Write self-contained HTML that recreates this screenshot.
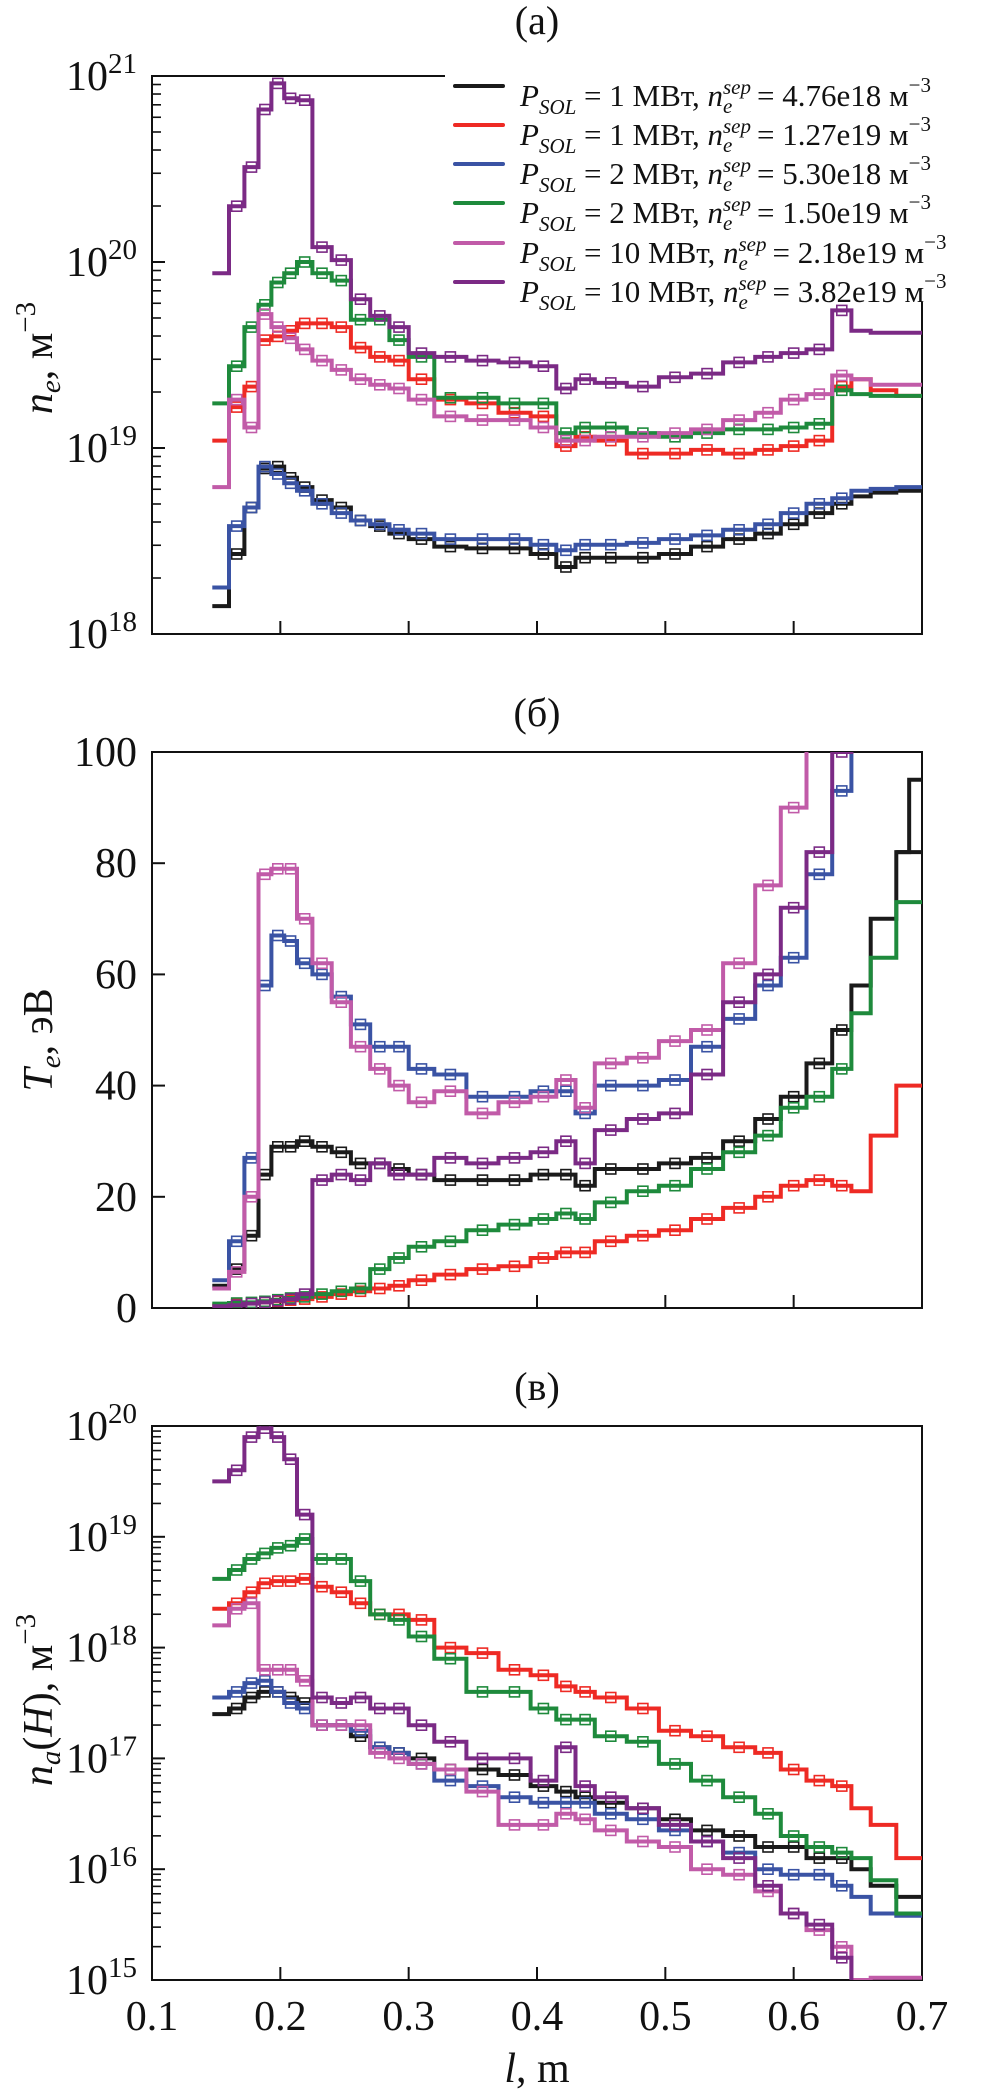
<!DOCTYPE html>
<html><head><meta charset="utf-8">
<style>
html,body{margin:0;padding:0;background:#fff;}
body{width:1002px;height:2094px;position:relative;overflow:hidden;font-family:"Liberation Serif",serif;}
#chart{position:absolute;left:0;top:0;}
#legend{position:absolute;left:445px;top:62px;width:557px;height:240px;background:#fff;}
.lrow{position:absolute;left:0;height:40px;white-space:nowrap;font-size:31px;color:#111;}
.lline{position:absolute;left:8px;top:19px;width:52px;height:4px;border-radius:2px;}
.ltext{position:absolute;left:75px;top:0;line-height:40px;}
.it{font-style:italic;}
.sub{font-size:21px;font-style:italic;vertical-align:-8px;}
.st{display:inline-flex;flex-direction:column;vertical-align:middle;font-size:21px;font-style:italic;line-height:19px;margin-right:6px;margin-top:-4px;}
.sup{font-size:21px;vertical-align:14px;}
</style></head>
<body>
<svg id="chart" width="1002" height="2094" xmlns="http://www.w3.org/2000/svg"></svg>

<div id="legend">
  <div class="lrow" style="top:3px"><div class="lline" style="background:#1a1a1a"></div><div class="ltext"><span class="it">P</span><span class="sub">SOL</span> = 1 МВт, <span class="it">n</span><span class="st"><span>sep</span><span>e</span></span>= 4.76e18 м<span class="sup">−3</span></div></div>
  <div class="lrow" style="top:42px"><div class="lline" style="background:#ee2a24"></div><div class="ltext"><span class="it">P</span><span class="sub">SOL</span> = 1 МВт, <span class="it">n</span><span class="st"><span>sep</span><span>e</span></span>= 1.27e19 м<span class="sup">−3</span></div></div>
  <div class="lrow" style="top:81px"><div class="lline" style="background:#3a53a4"></div><div class="ltext"><span class="it">P</span><span class="sub">SOL</span> = 2 МВт, <span class="it">n</span><span class="st"><span>sep</span><span>e</span></span>= 5.30e18 м<span class="sup">−3</span></div></div>
  <div class="lrow" style="top:120px"><div class="lline" style="background:#1e8a3c"></div><div class="ltext"><span class="it">P</span><span class="sub">SOL</span> = 2 МВт, <span class="it">n</span><span class="st"><span>sep</span><span>e</span></span>= 1.50e19 м<span class="sup">−3</span></div></div>
  <div class="lrow" style="top:160px"><div class="lline" style="background:#c15ba8"></div><div class="ltext"><span class="it">P</span><span class="sub">SOL</span> = 10 МВт, <span class="it">n</span><span class="st"><span>sep</span><span>e</span></span>= 2.18e19 м<span class="sup">−3</span></div></div>
  <div class="lrow" style="top:199px"><div class="lline" style="background:#7b2a85"></div><div class="ltext"><span class="it">P</span><span class="sub">SOL</span> = 10 МВт, <span class="it">n</span><span class="st"><span>sep</span><span>e</span></span>= 3.82e19 м<span class="sup">−3</span></div></div>
</div>

<script>
// ---- data ----
const binEdges = [0.147,0.16,0.172,0.183,0.193,0.203,0.213,0.225,0.24,0.255,0.27,0.285,0.3,0.32,0.345,0.37,0.395,0.415,0.43,0.445,0.47,0.495,0.52,0.545,0.57,0.59,0.61,0.63,0.645,0.66,0.68,0.7];
const seriesNames = ["P1-4.76e18","P1-1.27e19","P2-5.30e18","P2-1.50e19","P10-2.18e19","P10-3.82e19"];
const seriesColors = ["#1a1a1a","#ee2a24","#3a53a4","#1e8a3c","#c15ba8","#7b2a85"];
const xTicks = [0.1,0.2,0.3,0.4,0.5,0.6,0.7];
const xTickLabels = ["0.1","0.2","0.3","0.4","0.5","0.6","0.7"];
const teTicks = [0,20,40,60,80,100];

// panel (a): log10 n_e
const neBlack  = [18.15,18.43,18.68,18.89,18.90,18.84,18.79,18.72,18.68,18.61,18.58,18.54,18.51,18.47,18.46,18.46,18.43,18.36,18.41,18.41,18.41,18.43,18.47,18.51,18.54,18.59,18.65,18.70,18.74,18.76,18.77];
const neRed    = [19.04,19.22,19.33,19.58,19.60,19.63,19.67,19.67,19.65,19.54,19.49,19.47,19.37,19.26,19.24,19.19,19.17,19.01,19.06,19.04,18.97,18.97,18.99,18.97,18.99,19.01,19.04,19.33,19.37,19.31,19.28];
const neBlue   = [18.25,18.58,18.68,18.90,18.86,18.81,18.77,18.70,18.65,18.61,18.59,18.56,18.54,18.51,18.51,18.51,18.48,18.45,18.48,18.48,18.49,18.51,18.53,18.56,18.59,18.65,18.70,18.73,18.77,18.78,18.79];
const neGreen  = [19.24,19.44,19.65,19.77,19.89,19.94,20.00,19.94,19.90,19.69,19.69,19.58,19.49,19.27,19.27,19.24,19.24,19.08,19.11,19.11,19.08,19.06,19.08,19.10,19.10,19.11,19.13,19.31,19.29,19.28,19.28];
const nePink   = [18.79,19.26,19.11,19.72,19.65,19.59,19.53,19.47,19.42,19.37,19.34,19.32,19.26,19.17,19.15,19.15,19.11,19.04,19.04,19.06,19.06,19.08,19.10,19.15,19.19,19.26,19.29,19.39,19.37,19.34,19.34];
const nePurple = [19.94,20.30,20.51,20.82,20.96,20.88,20.87,20.08,20.01,19.80,19.71,19.65,19.51,19.49,19.47,19.46,19.44,19.32,19.37,19.35,19.33,19.38,19.40,19.46,19.49,19.51,19.53,19.74,19.63,19.62,19.62];

// panel (б): T_e, eV
const teBlack  = [4,7,13,24,29,29,30,29,28,26,26,25,24,23,23,23,24,24,22,25,25,26,27,30,34,38,44,50,58,70,82];
const teRed    = [0.5,0.7,0.9,1,1.2,1.4,1.6,2,2.5,3,3.5,4,5,6,7,7.5,9,10,10,12,13,14,16,18,20,22,23,22,21,31,40];
const teBlue   = [5,12,27,58,67,66,62,60,56,51,47,47,43,42,38,38,39,39,35,40,40,41,47,52,58,63,78,93,110,110,110];
const teGreen  = [0.8,0.9,1,1.2,1.5,1.8,2,2.5,3,3.5,7,9,11,12,14,15,16,17,16,19,21,22,25,28,31,36,38,43,53,63,73];
const tePink   = [3.5,6.5,20,78,79,79,70,62,55,47,43,40,37,39,35,37,38,41,36,44,45,48,50,62,76,90,110,110,110,110,110];
const tePurple = [0.3,0.5,0.8,1,1.3,1.6,2.5,23,24,23,26,24,24,27,26,27,28,30,26,32,34,35,42,55,60,72,82,100,110,110,110];
const teBlackLast = 95;

// panel (в): log10 n_a(H)
const naBlack  = [17.4,17.45,17.55,17.6,17.6,17.55,17.5,17.3,17.3,17.2,17.1,17.05,17.0,16.9,16.9,16.85,16.75,16.7,16.65,16.6,16.55,16.45,16.35,16.3,16.2,16.2,16.1,16.1,16.0,15.85,15.75];
const naRed    = [18.35,18.4,18.5,18.58,18.6,18.6,18.62,18.55,18.5,18.4,18.3,18.3,18.25,18.0,17.95,17.8,17.75,17.65,17.6,17.55,17.45,17.25,17.2,17.1,17.05,16.9,16.8,16.75,16.55,16.4,16.1];
const naBlue   = [17.55,17.6,17.68,17.7,17.6,17.5,17.45,17.3,17.3,17.25,17.1,17.05,16.95,16.8,16.75,16.65,16.6,16.6,16.6,16.5,16.45,16.35,16.25,16.15,16.0,15.95,15.95,15.85,15.75,15.6,15.58];
const naGreen  = [18.62,18.7,18.8,18.85,18.9,18.92,18.98,18.8,18.8,18.6,18.3,18.25,18.1,17.9,17.6,17.6,17.45,17.35,17.35,17.2,17.15,16.95,16.8,16.65,16.5,16.3,16.2,16.15,16.1,15.9,15.6];
const naPink   = [18.2,18.35,18.4,17.8,17.8,17.8,17.7,17.3,17.3,17.3,17.05,17.0,16.95,16.9,16.7,16.4,16.4,16.5,16.45,16.35,16.25,16.2,16.0,15.95,15.8,15.6,15.45,15.3,15.0,15.02,15.02];
const naPurple = [19.5,19.6,19.9,19.98,19.9,19.7,19.2,17.55,17.5,17.55,17.45,17.45,17.3,17.15,17.0,17.0,16.8,17.1,16.75,16.65,16.55,16.4,16.25,16.1,15.85,15.6,15.5,15.2,14.5,14.5,14.5];

// ---- drawing ----
const NS = "http://www.w3.org/2000/svg";
const FONT = '"Liberation Serif", serif';
const svg = document.getElementById('chart');
const XL = 152, XR = 922;
const xs = l => XL + (l - 0.1) / 0.6 * (XR - XL);
const panels = {
  a: {top:76, bottom:634, y: v => 76 + (21 - v) * 186},
  b: {top:752, bottom:1308, y: v => 1308 - v * 5.56},
  c: {top:1426, bottom:1980, y: v => 1426 + (20 - v) * 110.8}
};
function el(tag, attrs, parent){
  const e = document.createElementNS(NS, tag);
  for (const k in attrs) e.setAttribute(k, attrs[k]);
  (parent || svg).appendChild(e);
  return e;
}
const defs = el('defs', {});
for (const k in panels){
  const p = panels[k];
  const cp = el('clipPath', {id:'clip-' + k}, defs);
  el('rect', {x:XL, y:p.top, width:XR - XL, height:p.bottom - p.top}, cp);
}

function drawSeries(pk, vals, color, name){
  const p = panels[pk];
  const g = el('g', {'clip-path':'url(#clip-' + pk + ')'});
  
  
  let d = 'M' + xs(binEdges[0]).toFixed(1) + ',' + p.y(vals[0]).toFixed(1);
  for (let i = 0; i < vals.length; i++){
    if (i > 0) d += ' V' + p.y(vals[i]).toFixed(1);
    d += ' H' + xs(binEdges[i+1]).toFixed(1);
  }
  const path = el('path', {d:d, fill:'none', stroke:color, 'stroke-width':4, 'stroke-linejoin':'miter'}, g);
  
  
  for (let i = 1; i < vals.length - 3; i++){
    const cx = xs((binEdges[i] + binEdges[i+1]) / 2);
    const cy = p.y(vals[i]);
    const m = el('rect', {x:(cx - 5).toFixed(1), y:(cy - 5).toFixed(1), width:10, height:10, fill:'none', stroke:color, 'stroke-width':1.6}, g);
    
    
  }
}

function frame(pk){
  const p = panels[pk];
  const r = el('rect', {x:XL, y:p.top, width:XR - XL, height:p.bottom - p.top, fill:'none', stroke:'#111', 'stroke-width':2});
  
  
  xTicks.forEach((t, i) => {
    if (i === 0 || i === xTicks.length - 1) return;
    const tk = el('line', {x1:xs(t), x2:xs(t), y1:p.bottom, y2:p.bottom - 13, stroke:'#111', 'stroke-width':2});
    
    
  });
}
function logAxis(pk, lo, hi){
  const p = panels[pk];
  for (let e = lo; e <= hi; e++){
    const tk = el('line', {x1:XL, x2:XL + 13, y1:p.y(e), y2:p.y(e), stroke:'#111', 'stroke-width':2});
    
    
    const t = el('text', {x:137, y:p.y(e) + 14, 'text-anchor':'end', 'font-size':42, fill:'#111', 'font-family':FONT});
    
    
    const a = el('tspan', {}, t); a.textContent = '10';
    const b = el('tspan', {dy:-17, 'font-size':29}, t); b.textContent = String(e);
    if (e < hi){
      for (let m = 2; m <= 9; m++){
        const yy = p.y(e + Math.log10(m));
        const mt = el('line', {x1:XL, x2:XL + 9, y1:yy, y2:yy, stroke:'#111', 'stroke-width':1.6});
        
        
      }
    }
  }
}

frame('a'); logAxis('a', 18, 21);
frame('b');
teTicks.forEach(v => {
  const p = panels.b;
  const tk = el('line', {x1:XL, x2:XL + 13, y1:p.y(v), y2:p.y(v), stroke:'#111', 'stroke-width':2});
  
  
  const t = el('text', {x:137, y:p.y(v) + 14, 'text-anchor':'end', 'font-size':42, fill:'#111', 'font-family':FONT});
  
  
  t.textContent = String(v);
});
frame('c'); logAxis('c', 15, 20);

const neSets = [neBlack, neRed, neBlue, neGreen, nePink, nePurple];
const teSets = [teBlack, teRed, teBlue, teGreen, tePink, tePurple];
const naSets = [naBlack, naRed, naBlue, naGreen, naPink, naPurple];
const order = [0,2,1,3,4,5];
order.forEach(i => drawSeries('a', neSets[i], seriesColors[i], 'ne-' + seriesNames[i]));
order.forEach(i => drawSeries('b', teSets[i], seriesColors[i], 'te-' + seriesNames[i]));
(function(){
  const p = panels.b;
  const n = teBlack.length;
  const seg = el('path', {d:'M' + xs(binEdges[n-1]) + ',' + p.y(teBlack[n-1]) + ' H' + xs((binEdges[n-1]+binEdges[n])/2) + ' V' + p.y(teBlackLast) + ' H' + xs(0.7), fill:'none', stroke:seriesColors[0], 'stroke-width':4, 'clip-path':'url(#clip-b)'});
  
  
})();
order.forEach(i => drawSeries('c', naSets[i], seriesColors[i], 'na-' + seriesNames[i]));

xTicks.forEach((t, i) => {
  const tx = el('text', {x:xs(t), y:2030, 'text-anchor':'middle', 'font-size':42, fill:'#111', 'font-family':FONT});
  
  
  tx.textContent = xTickLabels[i];
});
(function(){
  const t = el('text', {x:537, y:2082, 'text-anchor':'middle', 'font-size':42, fill:'#111', 'font-family':FONT});
  
  
  const a = el('tspan', {'font-style':'italic'}, t); a.textContent = 'l';
  const b = el('tspan', {}, t); b.textContent = ', m';
})();
[['(a)', 34], ['(б)', 726], ['(в)', 1400]].forEach(([s, y]) => {
  const t = el('text', {x:537, y:y, 'text-anchor':'middle', 'font-size':40, fill:'#111', 'font-family':FONT});
  
  
  t.textContent = s;
});
function yTitle(cy, parts, name){
  const t = el('text', {x:0, y:0, 'text-anchor':'middle', 'font-size':42, fill:'#111', 'font-family':FONT, transform:'translate(52,' + cy + ') rotate(-90)'});
  
  
  parts.forEach(pt => {
    const s = el('tspan', pt.a || {}, t);
    s.textContent = pt.t;
  });
}
yTitle(358, [{t:'n', a:{'font-style':'italic'}}, {t:'e', a:{'font-style':'italic','font-size':29, dy:8}}, {t:', м', a:{dy:-8}}, {t:'−3', a:{'font-size':29, dy:-17}}], 'y-axis-title-ne');
yTitle(1040, [{t:'T', a:{'font-style':'italic'}}, {t:'e', a:{'font-style':'italic','font-size':29, dy:8}}, {t:', эВ', a:{dy:-8}}], 'y-axis-title-te');
yTitle(1700, [{t:'n', a:{'font-style':'italic'}}, {t:'a', a:{'font-style':'italic','font-size':29, dy:8}}, {t:'(', a:{dy:-8}}, {t:'H', a:{'font-style':'italic'}}, {t:'), м'}, {t:'−3', a:{'font-size':29, dy:-17}}], 'y-axis-title-na');
</script>
</body></html>
